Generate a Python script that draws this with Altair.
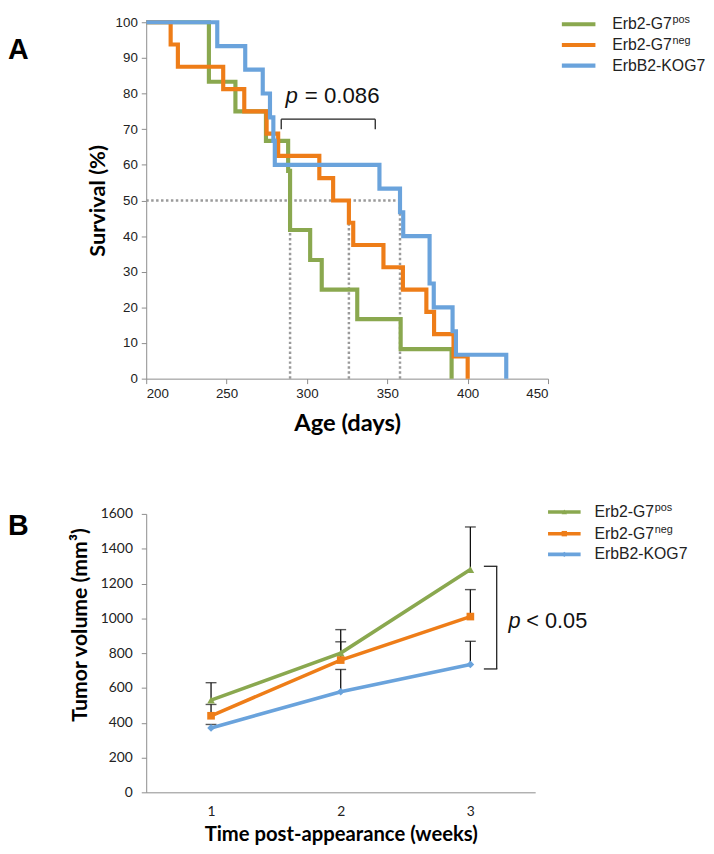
import altair as alt
import pandas as pd

# ---------------- Panel A data: Kaplan-Meier survival ----------------
series_names = ["Erb2-G7pos", "Erb2-G7neg", "ErbB2-KOG7"]
legend_main = ["Erb2-G7", "Erb2-G7", "ErbB2-KOG7"]
legend_sup = ["pos", "neg", ""]
series_colors = ["#8AA84F", "#EE7D18", "#6AA3DC"]

green_days = [200, 239, 255.5, 274.5, 288.3, 289.5, 302, 309.2, 331.3, 358.3, 390]
green_surv = [100, 83.3, 75, 66.7, 58.3, 41.7, 33.3, 25, 16.7, 8.3, 0]
orange_days = [200, 215.2, 219.7, 247.9, 261, 274.9, 282.1, 307.7, 316.3, 326.1,
               328.8, 347.6, 359.7, 374.3, 379.1, 391.2, 400]
orange_surv = [100, 93.75, 87.5, 81.25, 75, 68.75, 62.5, 56.25, 50, 43.75, 37.5,
               31.25, 25, 18.75, 12.5, 6.25, 0]
blue_days = [200, 244.2, 261.6, 272.5, 277, 279.1, 280, 345.1, 357.9, 359.9, 376.3,
             378.9, 390.6, 392.7, 424]
blue_surv = [100, 93.3, 86.7, 80, 73.3, 66.7, 60, 53.3, 46.7, 40, 26.7, 20, 13.3, 6.7, 0]

median_days = [289.5, 326.1, 357.9]
median_level = 50

age_ticks = [200, 250, 300, 350, 400, 450]
surv_ticks = [0, 10, 20, 30, 40, 50, 60, 70, 80, 90, 100]

pA_bracket_days = [284, 342.5]
pA_bracket_levels = [70, 72.8]
pA_text = ["p", "= 0.086"]
pA_text_days = [286.6, 298.7]
pA_text_level = 79.4

# ---------------- Panel B data: tumour volume ----------------
weeks = [1, 2, 3]
vol_pos = [530, 800, 1280]
vol_pos_err = [100, 135, 245]
vol_neg = [440, 760, 1010]
vol_neg_err = [65, 105, 155]
vol_kog = [370, 578, 735]
vol_kog_err = [20, 128, 133]
vol_ticks = [0, 200, 400, 600, 800, 1000, 1200, 1400, 1600]
shapes = ["triangle-up", "square", "diamond"]

pB_bracket_levels = [709, 1299]
pB_text = ["p", "< 0.05"]
pB_text_level = 983

# ---------------- helpers ----------------
AX_GRAY = "#8c8c8c"
SANS = "Liberation Sans"
TITLE_FONT = "Lato"

WA, HA = 407, 361
WB, HB = 394, 282

xA_scale = alt.Scale(domain=[200, 450], nice=False)
yA_scale = alt.Scale(domain=[0, 100], nice=False)
xA_axis = alt.Axis(values=age_ticks, title="Age (days)", grid=False,
                   titleFont=TITLE_FONT, titleFontSize=24, titleFontWeight="bold",
                   titleColor="#000", titlePadding=12,
                   labelFont=SANS, labelFontSize=13.5, labelColor="#222",
                   labelPadding=3, tickSize=5, domainColor=AX_GRAY, tickColor=AX_GRAY)
yA_axis = alt.Axis(values=surv_ticks, title="Survival (%)", grid=False,
                   titleFont=TITLE_FONT, titleFontSize=22, titleFontWeight="bold",
                   titleColor="#000", titlePadding=6,
                   labelFont=SANS, labelFontSize=13.5, labelColor="#222",
                   labelPadding=4, tickSize=5, domainColor=AX_GRAY, tickColor=AX_GRAY)


def XA(field="day"):
    return alt.X(f"{field}:Q", scale=xA_scale, axis=xA_axis)


def YA(field="surv"):
    return alt.Y(f"{field}:Q", scale=yA_scale, axis=yA_axis)


layersA = []

# median dotted guides
med_h = pd.DataFrame({"day": [200], "day2": [max(median_days)], "surv": [median_level]})
layersA.append(alt.Chart(med_h).mark_rule(color="#9a9a9a", strokeWidth=2.5, strokeDash=[2.5, 2.5])
               .encode(x=XA(), x2="day2:Q", y=YA()))
med_v = pd.DataFrame({"day": median_days, "surv": [0] * 3, "surv2": [median_level] * 3})
layersA.append(alt.Chart(med_v).mark_rule(color="#9a9a9a", strokeWidth=2.5, strokeDash=[2.5, 2.5])
               .encode(x=XA(), y=YA(), y2="surv2:Q"))

# survival curves
for days, surv, col in [(green_days, green_surv, series_colors[0]),
                        (orange_days, orange_surv, series_colors[1]),
                        (blue_days, blue_surv, series_colors[2])]:
    df = pd.DataFrame({"day": days, "surv": surv})
    layersA.append(alt.Chart(df).mark_line(interpolate="step-after", color=col,
                                           strokeWidth=4.2, strokeJoin="miter")
                   .encode(x=XA(), y=YA()))

# p-value bracket
br_h = pd.DataFrame({"day": [pA_bracket_days[0]], "day2": [pA_bracket_days[1]],
                     "surv": [pA_bracket_levels[1]]})
layersA.append(alt.Chart(br_h).mark_rule(color="#222", strokeWidth=1.3)
               .encode(x=XA(), x2="day2:Q", y=YA()))
br_v = pd.DataFrame({"day": pA_bracket_days, "surv": [pA_bracket_levels[0]] * 2,
                     "surv2": [pA_bracket_levels[1]] * 2})
layersA.append(alt.Chart(br_v).mark_rule(color="#222", strokeWidth=1.3)
               .encode(x=XA(), y=YA(), y2="surv2:Q"))
pA_df = pd.DataFrame({"day": pA_text_days, "surv": [pA_text_level] * 2, "t": pA_text})
layersA.append(alt.Chart(pA_df.iloc[[0]]).mark_text(align="left", baseline="middle", font=SANS,
                                                    fontSize=22.5, fontStyle="italic", color="#111")
               .encode(x=XA(), y=YA(), text="t:N"))
layersA.append(alt.Chart(pA_df.iloc[[1]]).mark_text(align="left", baseline="middle", font=SANS,
                                                    fontSize=22.5, color="#111")
               .encode(x=XA(), y=YA(), text="t:N"))

# legend A
one = pd.DataFrame({"k": [0]})
legA_rows = [2, 23, 44]
for i in range(3):
    layersA.append(alt.Chart(one).mark_rule(color=series_colors[i], strokeWidth=4.2)
                   .encode(x=alt.value(421), x2=alt.value(455), y=alt.value(legA_rows[i])))
    layersA.append(alt.Chart(one).mark_text(align="left", baseline="middle", font=SANS,
                                            fontSize=16, color="#222", text=legend_main[i])
                   .encode(x=alt.value(472), y=alt.value(legA_rows[i])))
    if legend_sup[i]:
        layersA.append(alt.Chart(one).mark_text(align="left", baseline="middle", font=SANS,
                                                fontSize=11, color="#222", text=legend_sup[i])
                       .encode(x=alt.value(533), y=alt.value(legA_rows[i] - 4)))

layersA.append(alt.Chart(one).mark_text(align="left", baseline="middle", font=SANS,
                                        fontSize=29, fontWeight="bold", color="#000", text="A")
               .encode(x=alt.value(-140), y=alt.value(28)))

chartA = alt.layer(*layersA).properties(width=WA, height=HA)

# ---------------- Panel B ----------------
xB_scale = alt.Scale(type="point", padding=0.5)
yB_scale = alt.Scale(domain=[0, 1600], nice=False)
xB_axis = alt.Axis(title="Time post-appearance (weeks)", grid=False, ticks=False, labelAngle=0,
                   titleFont=TITLE_FONT, titleFontSize=20.5, titleFontWeight="bold",
                   titleColor="#000", titlePadding=7,
                   labelFont=TITLE_FONT, labelFontSize=14, labelColor="#222",
                   labelPadding=12, domainColor=AX_GRAY)
yB_axis = alt.Axis(values=vol_ticks, format="d", title="Tumor volume (mm³)", grid=False,
                   titleFont=TITLE_FONT, titleFontSize=21.5, titleFontWeight="bold",
                   titleColor="#000", titleX=-66, titleY=112, titleBaseline="middle",
                   labelFont=TITLE_FONT, labelFontSize=14, labelColor="#222",
                   labelPadding=9, tickSize=5, domainColor=AX_GRAY, tickColor=AX_GRAY)


def XB():
    return alt.X("week:O", scale=xB_scale, axis=xB_axis)


def YB(field="vol"):
    return alt.Y(f"{field}:Q", scale=yB_scale, axis=yB_axis)


layersB = []
series_B = [(vol_pos, vol_pos_err), (vol_neg, vol_neg_err), (vol_kog, vol_kog_err)]

# error bars (upper only)
for vals, errs in series_B:
    df = pd.DataFrame({"week": weeks, "vol": vals, "top": [v + e for v, e in zip(vals, errs)]})
    layersB.append(alt.Chart(df).mark_rule(color="#111", strokeWidth=1.3)
                   .encode(x=XB(), y=YB(), y2="top:Q"))
    layersB.append(alt.Chart(df).mark_tick(color="#111", size=11, thickness=1.4)
                   .encode(x=XB(), y=YB("top")))

for i, (vals, errs) in enumerate(series_B):
    df = pd.DataFrame({"week": weeks, "vol": vals})
    layersB.append(alt.Chart(df).mark_line(color=series_colors[i], strokeWidth=3.6)
                   .encode(x=XB(), y=YB()))
    layersB.append(alt.Chart(df).mark_point(color=series_colors[i], filled=True, opacity=1,
                                            shape=shapes[i], size=60)
                   .encode(x=XB(), y=YB()))

# bracket and p text
pb = pd.DataFrame({"vol": [pB_bracket_levels[0]], "vol2": [pB_bracket_levels[1]]})
layersB.append(alt.Chart(pb).mark_rule(color="#222", strokeWidth=1.3)
               .encode(x=alt.value(355), y=YB(), y2="vol2:Q"))
for lvl in pB_bracket_levels:
    d = pd.DataFrame({"vol": [lvl]})
    layersB.append(alt.Chart(d).mark_rule(color="#222", strokeWidth=1.3)
                   .encode(x=alt.value(342), x2=alt.value(355.6), y=YB()))
pt = pd.DataFrame({"vol": [pB_text_level]})
layersB.append(alt.Chart(pt).mark_text(align="left", baseline="middle", font=SANS, fontSize=22,
                                       fontStyle="italic", color="#111", text=pB_text[0])
               .encode(x=alt.value(367), y=YB()))
layersB.append(alt.Chart(pt).mark_text(align="left", baseline="middle", font=SANS, fontSize=22,
                                       color="#111", text=pB_text[1])
               .encode(x=alt.value(385), y=YB()))

# legend B
legB_rows = [-2, 20, 41]
for i in range(3):
    layersB.append(alt.Chart(one).mark_rule(color=series_colors[i], strokeWidth=3.6)
                   .encode(x=alt.value(407), x2=alt.value(440), y=alt.value(legB_rows[i])))
    layersB.append(alt.Chart(one).mark_point(color=series_colors[i], filled=True, opacity=1,
                                             shape=shapes[i], size=30)
                   .encode(x=alt.value(423.5), y=alt.value(legB_rows[i])))
    layersB.append(alt.Chart(one).mark_text(align="left", baseline="middle", font=SANS,
                                            fontSize=16, color="#222", text=legend_main[i])
                   .encode(x=alt.value(454), y=alt.value(legB_rows[i])))
    if legend_sup[i]:
        layersB.append(alt.Chart(one).mark_text(align="left", baseline="middle", font=SANS,
                                                fontSize=11, color="#222", text=legend_sup[i])
                       .encode(x=alt.value(515), y=alt.value(legB_rows[i] - 4)))

layersB.append(alt.Chart(one).mark_text(align="left", baseline="middle", font=SANS,
                                        fontSize=29, fontWeight="bold", color="#000", text="B")
               .encode(x=alt.value(-140), y=alt.value(12)))

chartB = alt.layer(*layersB).properties(width=WB, height=HB)

chart = (alt.vconcat(chartA, chartB, spacing=67)
         .properties(padding=0)
         .configure_view(stroke=None))

chart.save("out.html", embed_options={"renderer": "svg", "actions": False})
